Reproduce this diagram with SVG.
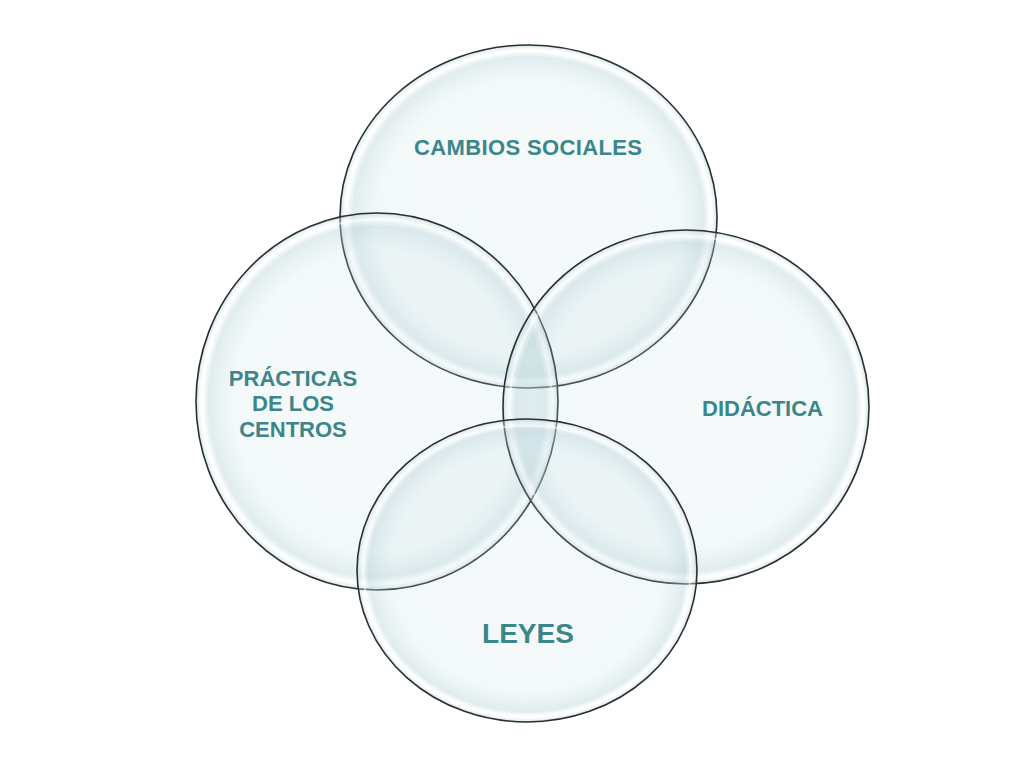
<svg xmlns="http://www.w3.org/2000/svg" width="1024" height="768" viewBox="0 0 1024 768">
<defs>
<radialGradient id="glass" cx="0.5" cy="0.5" r="0.5">
<stop offset="0" stop-color="#c4dde2" stop-opacity="0.16"/>
<stop offset="0.8" stop-color="#c4dde2" stop-opacity="0.2"/>
<stop offset="0.93" stop-color="#b4d2d8" stop-opacity="0.42"/>
<stop offset="0.97" stop-color="#ffffff" stop-opacity="0.3"/>
<stop offset="1" stop-color="#a9c9cf" stop-opacity="0.5"/>
</radialGradient>
<style>
.bubble{fill:url(#glass);stroke:#2a2f30;stroke-width:1.6}
.shine{fill:none;stroke:#ffffff;stroke-opacity:0.55;stroke-width:2}
.lbl{font-family:"Liberation Sans",Arial,sans-serif;font-weight:bold;fill:#3b868a;text-anchor:middle}
</style>
</defs>
<rect width="1024" height="768" fill="#ffffff"/>
<g id="connectors"/>
<g id="cambios-sociales">
<ellipse class="bubble" cx="528.5" cy="216.5" rx="188.5" ry="171.5"/>
<ellipse class="shine" cx="528.5" cy="216.5" rx="182" ry="165"/>
<text class="lbl" x="528" y="155" font-size="22" textLength="228" lengthAdjust="spacing">CAMBIOS SOCIALES</text>
</g>
<g id="practicas">
<ellipse class="bubble" cx="377" cy="401.5" rx="181" ry="188.5"/>
<ellipse class="shine" cx="377" cy="401.5" rx="174.5" ry="182"/>
<text class="lbl" font-size="22"><tspan x="293" y="386">PRÁCTICAS</tspan><tspan x="293" y="411">DE LOS</tspan><tspan x="293" y="437">CENTROS</tspan></text>
</g>
<g id="didactica">
<ellipse class="bubble" cx="686" cy="407" rx="183" ry="177"/>
<ellipse class="shine" cx="686" cy="407" rx="176.5" ry="170.5"/>
<text class="lbl" x="762.5" y="416" font-size="22">DIDÁCTICA</text>
</g>
<g id="leyes">
<ellipse class="bubble" cx="527" cy="570.5" rx="170" ry="151.5"/>
<ellipse class="shine" cx="527" cy="570.5" rx="163.5" ry="145"/>
<text class="lbl" x="528" y="643" font-size="28">LEYES</text>
</g>
</svg>
